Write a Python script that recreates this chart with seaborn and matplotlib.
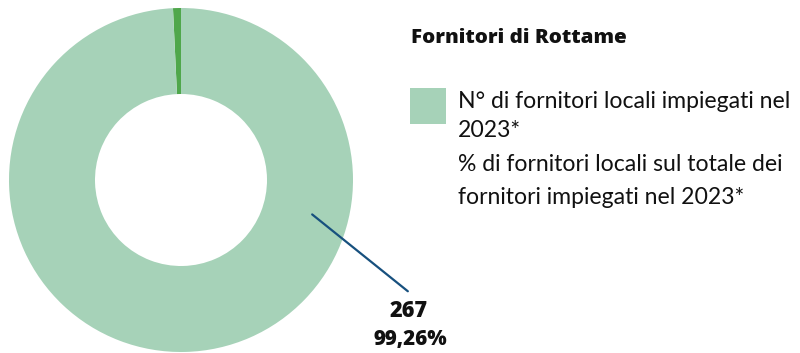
import matplotlib
matplotlib.use("Agg")
import matplotlib.pyplot as plt
import seaborn as sns

# Scrap suppliers 2023: local vs. other
categories = ["Altri fornitori", "Fornitori locali"]
suppliers = [2, 267]
colors = ["#4fa74b", "#a6d2b8"]

title = "Fornitori di Rottame"
legend_lines = ["N° di fornitori locali impiegati nel", "2023*",
                "% di fornitori locali sul totale dei",
                "fornitori impiegati nel 2023*"]

sns.set_theme(style="white")
plt.rcParams["font.family"] = ["Lato", "DejaVu Sans"]

W, H = 800, 353
fig = plt.figure(figsize=(W / 100, H / 100), dpi=100)
fig.patch.set_facecolor("white")
renderer = fig.canvas.get_renderer()


def fitted_text(x, y, s, width, size, **kw):
    """Place text and scale its font so it spans the given pixel width."""
    t = fig.text(x / W, 1 - y / H, s, fontsize=size, **kw)
    w = t.get_window_extent(renderer).width
    t.set_fontsize(size * width / w)
    return t


cx, cy, r = 181, 180, 172
ax = fig.add_axes([(cx - r) / W, (H - cy - r) / H, 2 * r / W, 2 * r / H])
ax.pie(suppliers, colors=colors, startangle=90, counterclock=True,
       radius=1.0, wedgeprops=dict(width=0.5, linewidth=0))
ax.set_xlim(-1, 1)
ax.set_ylim(-1, 1)
ax.set_aspect("equal")
ax.axis("off")

local = suppliers[1]
share = local / sum(suppliers) * 100
share_txt = f"{share:.2f}".replace(".", ",") + "%"

# leader line from the ring to the value label
ax.annotate("", xy=(0.75, -0.19), xytext=((410 - cx) / r, (cy - 293) / r),
            arrowprops=dict(arrowstyle="-", color="#17507e", lw=1.6),
            annotation_clip=False)

bold = dict(fontweight="heavy", color="#111111", va="center", ha="center",
            family=["Open Sans", "DejaVu Sans"])
fitted_text(409, 311, f"{local}", 38, 14, **bold)
fitted_text(410, 340, share_txt, 74, 14, **bold)

fitted_text(411, 38, title, 216, 14, ha="left", va="center",
            fontweight="heavy", color="#111111",
            family=["Open Sans", "DejaVu Sans"])

# legend swatch and text
sw = fig.add_axes([410 / W, 1 - 124 / H, 36 / W, 36 / H])
sw.set_facecolor(colors[1])
sw.set_xticks([]); sw.set_yticks([])
for s in sw.spines.values():
    s.set_visible(False)

ys = [102, 130, 165, 197]
first = fitted_text(458, ys[0], legend_lines[0], 334, 14, ha="left",
                    va="center", color="#111111")
size = first.get_fontsize()
for y, line in zip(ys[1:], legend_lines[1:]):
    fig.text(458 / W, 1 - y / H, line, ha="left", va="center",
             fontsize=size, color="#111111")

fig.savefig("out.png", dpi=100, facecolor="white")
